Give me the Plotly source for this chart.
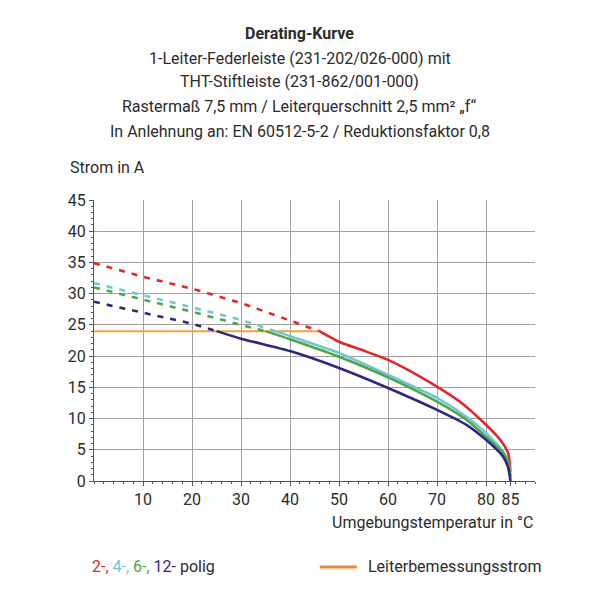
import plotly.graph_objects as go

# ---------------- data ----------------
# 2-polig (red)
t2_dash = [0, 10, 20, 30, 40, 46]
i2_dash = [34.9, 32.7, 30.8, 28.5, 25.7, 24.0]
t2_sol = [46, 50, 55, 60, 65, 70, 75, 80, 83, 84.5, 85]
i2_sol = [24.0, 22.3, 20.9, 19.4, 17.4, 15.1, 12.5, 9.0, 6.5, 4.5, 1.5]

# 4-polig (cyan)
t4_dash = [0, 10, 20, 30, 37]
i4_dash = [31.7, 29.8, 27.8, 25.8, 24.0]
t4_sol = [37, 40, 50, 60, 70, 76, 80, 83.5, 84.5, 85]
i4_sol = [24.0, 23.2, 20.5, 17.0, 13.3, 10.3, 7.7, 4.7, 3.0, 0.8]

# 6-polig (green)
t6_dash = [0, 10, 20, 30, 35]
i6_dash = [31.0, 29.1, 27.1, 25.0, 24.0]
t6_sol = [35, 40, 50, 60, 70, 76, 80, 83.5, 84.5, 85]
i6_sol = [24.0, 22.7, 19.9, 16.6, 12.7, 9.8, 7.1, 4.5, 2.9, 0.6]

# 12-polig (navy)
t12_dash = [0, 10, 20, 25]
i12_dash = [28.7, 26.9, 25.2, 24.0]
t12_sol = [25, 30, 40, 50, 60, 70, 76, 80, 83.5, 84.5, 85]
i12_sol = [24.0, 22.8, 20.8, 18.1, 14.9, 11.4, 9.0, 6.6, 3.9, 2.2, 0.0]

# Leiterbemessungsstrom (orange)
t_rated = [0, 46]
i_rated = [24.0, 24.0]

x_ticks = [10, 20, 30, 40, 50, 60, 70, 80, 85]
x_grid = [10, 20, 30, 40, 50, 60, 70, 80]
y_ticks = [0, 5, 10, 15, 20, 25, 30, 35, 40, 45]

title_lines = [
    "<b>Derating-Kurve</b>",
    "1-Leiter-Federleiste (231-202/026-000) mit",
    "THT-Stiftleiste (231-862/001-000)",
    "Rastermaß 7,5 mm / Leiterquerschnitt 2,5 mm² „f“",
    "In Anlehnung an: EN 60512-5-2 / Reduktionsfaktor 0,8",
]

# ---------------- style ----------------
FONT = "Roboto, sans-serif"
FS = 16
TXT = "#2b2b2b"
RED = "#e3262b"
CYAN = "#74c6d2"
GREEN = "#4ca64a"
NAVY = "#2c2882"
ORANGE = "#f7a03c"
ORANGE_LEG = "#f08a32"
GRID = "#a0a0a0"

fig = go.Figure()

fig.add_trace(go.Scatter(x=t_rated, y=i_rated, mode="lines",
                         line=dict(color=ORANGE, width=2), hoverinfo="skip"))

series = [
    (t2_dash, i2_dash, t2_sol, i2_sol, RED),
    (t4_dash, i4_dash, t4_sol, i4_sol, CYAN),
    (t6_dash, i6_dash, t6_sol, i6_sol, GREEN),
    (t12_dash, i12_dash, t12_sol, i12_sol, NAVY),
]
for td, yd, ts, ys, col in series:
    fig.add_trace(go.Scatter(x=td, y=yd, mode="lines",
                             line=dict(color=col, width=2.6, dash="6px,7px")))
for td, yd, ts, ys, col in series:
    fig.add_trace(go.Scatter(x=ts, y=ys, mode="lines",
                             line=dict(color=col, width=2.6, shape="spline", smoothing=0.6)))

# overlay axis only for tick labels (85 has no grid line)
fig.add_trace(go.Scatter(x=[None], y=[None], xaxis="x2", showlegend=False))

fig.update_layout(
    width=600, height=600,
    paper_bgcolor="white", plot_bgcolor="white",
    showlegend=False,
    margin=dict(l=86, r=73, t=192, b=127),
    font=dict(family=FONT, color=TXT, size=FS),
    xaxis=dict(range=[0, 90], tickvals=x_grid, showticklabels=False,
               showgrid=True, gridcolor=GRID, gridwidth=1, zeroline=False,
               showline=True, linecolor="#555", linewidth=1, ticks=""),
    xaxis2=dict(range=[0, 90], overlaying="x", anchor="y", side="bottom",
                tickvals=x_ticks, ticktext=[str(v) for v in x_ticks],
                showgrid=False, zeroline=False, showline=False,
                ticks="outside", ticklen=4, tickcolor="#555",
                minor=dict(dtick=2, ticks="outside", ticklen=2, tickcolor="#555"),
                tickfont=dict(size=FS, color=TXT, family=FONT)),
    yaxis=dict(range=[0, 45], tickvals=y_ticks, showgrid=True, gridcolor=GRID,
               gridwidth=1, zeroline=False, showline=True, linecolor="#555",
               linewidth=1, ticks="outside", ticklen=4, tickcolor="#555",
               minor=dict(dtick=1, ticks="outside", ticklen=2, tickcolor="#555"),
               tickfont=dict(size=FS, color=TXT, family=FONT)),
)

ys_title = [1.594, 1.505, 1.420, 1.331, 1.242]
for txt, yy in zip(title_lines, ys_title):
    fig.add_annotation(text=txt, xref="paper", yref="paper", x=0.467, y=yy,
                       xanchor="center", yanchor="middle", showarrow=False,
                       font=dict(size=FS, color=TXT, family=FONT))

fig.add_annotation(text="Strom in A", xref="paper", yref="paper", x=-0.059, y=1.114,
                   xanchor="left", yanchor="middle", showarrow=False,
                   font=dict(size=FS, color=TXT, family=FONT))
fig.add_annotation(text="Umgebungstemperatur in °C", xref="paper", yref="paper", x=1.0, y=-0.146,
                   xanchor="right", yanchor="middle", showarrow=False,
                   font=dict(size=FS, color=TXT, family=FONT))

legend_html = (f"<span style='color:{RED}'>2-,</span> "
               f"<span style='color:{CYAN}'>4-,</span> "
               f"<span style='color:{GREEN}'>6-,</span> "
               f"<span style='color:{NAVY}'>12-</span> polig")
fig.add_annotation(text=legend_html, xref="paper", yref="paper", x=-0.009, y=-0.306,
                   xanchor="left", yanchor="middle", showarrow=False,
                   font=dict(size=FS, color=TXT, family=FONT))
fig.add_shape(type="line", xref="paper", yref="paper", x0=0.512, x1=0.596, y0=-0.306, y1=-0.306,
              line=dict(color=ORANGE_LEG, width=3))
fig.add_annotation(text="Leiterbemessungsstrom", xref="paper", yref="paper", x=0.617, y=-0.306,
                   xanchor="left", yanchor="middle", showarrow=False,
                   font=dict(size=FS, color=TXT, family=FONT))

fig.write_html("out.html")
